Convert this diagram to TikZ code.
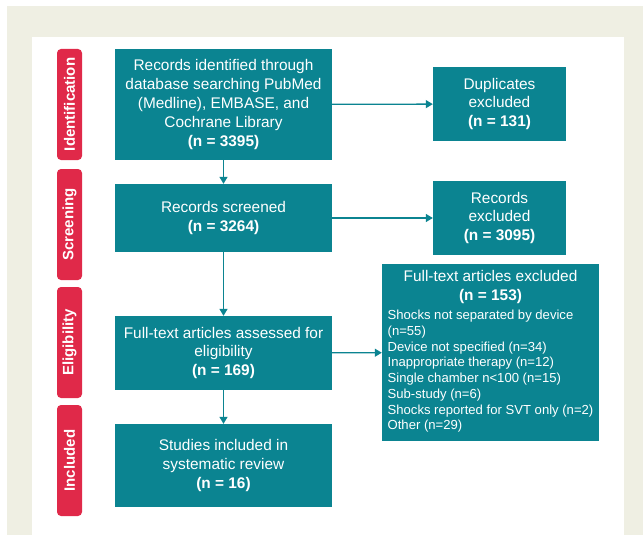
\documentclass[tikz,border=0pt]{standalone}
\usepackage{fontspec}
\setmainfont{Liberation Sans}
\usetikzlibrary{arrows.meta}

\definecolor{prteal}{RGB}{11,132,145}
\definecolor{prred}{RGB}{224,41,73}
\definecolor{prbeige}{RGB}{239,239,227}

\begin{document}
\begin{tikzpicture}[
  x=1pt, y=-1pt,
  >={Triangle[length=7pt, width=8pt]},
  box/.style={fill=prteal, text=white, align=center, inner sep=4pt,
              font={\fontsize{15.4}{18.8}\selectfont}},
  mainbox/.style={box, minimum width=217pt},
  sidebox/.style={box, minimum width=133pt, minimum height=74pt},
  phase/.style={fill=prred, text=white, rounded corners=4pt, rotate=90,
                minimum height=25pt, minimum width=111pt, inner sep=0pt,
                font={\fontsize{15}{17}\selectfont\bfseries}},
  flow/.style={->, draw=prteal, line width=1.3pt},
]
% ---- page background and panel ----
\useasboundingbox (0,0) rectangle (643,535);
\fill[prbeige] (7,6) rectangle (643,535);
\fill[white] (32,37) rectangle (624,535);

% ---- phase labels (left) ----
\node[phase] (ident) at (69.5,104.5) {Identification};
\node[phase] (screen) at (69.5,224.5) {Screening};
\node[phase] (elig) at (69.5,342.5) {Eligibility};
\node[phase] (incl) at (69.5,460.5) {Included};

% ---- main column ----
\node[mainbox, minimum height=111pt] (records) at (223.5,104.5)
  {Records identified through\\database searching PubMed\\(Medline), EMBASE, and\\Cochrane Library\\\textbf{(n = 3395)}};
\node[mainbox, minimum height=68pt] (screened) at (223.5,218)
  {Records screened\\\textbf{(n = 3264)}};
\node[mainbox, minimum height=74pt] (assessed) at (223.5,353)
  {Full-text articles assessed for\\eligibility\\\textbf{(n = 169)}};
\node[mainbox, minimum height=83pt] (included) at (223.5,465.5)
  {Studies included in\\systematic review\\\textbf{(n = 16)}};

% ---- exclusions (right) ----
\node[sidebox] (dups) at (499.5,104)
  {Duplicates\\excluded\\\textbf{(n = 131)}};
\node[sidebox] (recexcl) at (499.5,218)
  {Records\\excluded\\\textbf{(n = 3095)}};
\node[box, minimum width=217pt, minimum height=177pt, inner sep=0pt,
      font={\fontsize{13.1}{15.7}\selectfont}] (ftexcl) at (490.5,352.5)
  {\begin{tabular}{@{}l@{}}
     \multicolumn{1}{@{}c@{}}{\fontsize{15.4}{18.8}\selectfont Full-text articles excluded}\\[3.3pt]
     \multicolumn{1}{@{}c@{}}{\fontsize{15.4}{18.8}\selectfont\bfseries (n = 153)}\\[3.3pt]
     Shocks not separated by device\\
     (n=55)\\
     Device not specified (n=34)\\
     Inappropriate therapy (n=12)\\
     Single chamber n<100 (n=15)\\
     Sub-study (n=6)\\
     Shocks reported for SVT only (n=2)\\
     Other (n=29)
   \end{tabular}};

% ---- connectors ----
\draw[flow] (records) -- (screened);
\draw[flow] (screened) -- (assessed);
\draw[flow] (assessed) -- (included);
\draw[flow] (records) -- (dups);
\draw[flow] (screened) -- (recexcl);
\draw[flow] (assessed) -- (ftexcl);
\end{tikzpicture}
\end{document}
